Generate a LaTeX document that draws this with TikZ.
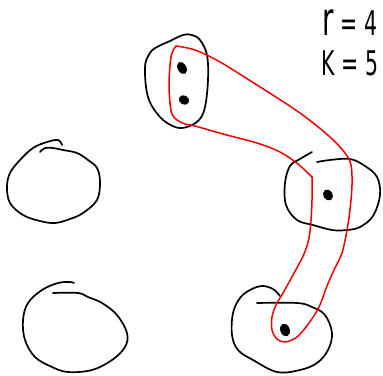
\documentclass[tikz,border=0pt]{standalone}
\usepackage{fontspec}
\setsansfont{DejaVu Sans}
\begin{document}
\begin{tikzpicture}[x=1pt,y=-1pt,
  pen/.style={line width=1.7pt, black, line cap=round, line join=round},
  redpen/.style={line width=1.5pt, red!95!black, line cap=round, line join=round},
  blob/.style={fill=black, draw=black, line width=1pt},
  label/.style={font=\sffamily\fontsize{34}{34}\selectfont, inner sep=0pt}]
\useasboundingbox[fill=white] (0,0) rectangle (383,375);
% top circle
\draw[pen] plot[smooth cycle, tension=0.6] coordinates {(183,35) (192,35) (200,40) (207,55) (208,80) (205,107) (199,120) (187,127) (175,127) (160,117) (148,97) (145,67) (150,53) (157,47) (170,41)};
% right middle circle
\draw[pen] plot[smooth, tension=0.6] coordinates {(312,152) (300,159) (290,166) (285,183) (286,205) (297,220) (313,225) (332,230) (347,230) (360,227) (373,216) (380,195) (377,177) (365,166) (350,159) (330,160) (317,162)};
% bottom right circle
\draw[pen] plot[smooth, tension=0.6] coordinates {(280,296) (273,289) (262,286) (250,290) (240,298) (233,313) (232,335) (238,350) (253,360) (277,372) (300,370) (317,363) (328,350) (332,333) (325,315) (312,307) (297,303) (257,303)};
% left middle circle
\draw[pen] plot[smooth, tension=0.6] coordinates {(62,145) (58,140) (47,142) (33,148) (20,160) (10,173) (7,187) (10,203) (23,215) (40,221) (55,223) (70,219) (83,213) (97,200) (100,182) (97,168) (88,160) (77,153) (63,150) (53,148) (45,148) (40,152)};
% bottom left circle
\draw[pen] plot[smooth, tension=0.6] coordinates {(74,283) (70,282) (58,283) (42,290) (28,303) (23,320) (25,340) (35,357) (52,367) (68,372) (92,370) (112,360) (125,347) (127,333) (117,315) (102,303) (88,297) (78,293) (53,293)};
% dots
\fill[blob, rotate around={-60:(182,68)}] (182,68) ellipse (6pt and 3.8pt);
\fill[blob, rotate around={-30:(184,100)}] (184,100) ellipse (4.8pt and 4pt);
\fill[blob, rotate around={-60:(328,195)}] (328,195) ellipse (5.2pt and 4.2pt);
\fill[blob, rotate around={-70:(285,330)}] (285,330) ellipse (6pt and 4.2pt);
% red enclosure
\draw[redpen] plot[smooth, tension=0.55] coordinates {(312,177) (312,200) (311,220) (309,238) (304,254) (293,275) (283,293) (276,305) (272,317) (272,330) (277,339) (285,342) (297,337) (309,323) (319,307) (327,286) (334,270) (342,253) (347,230) (350,210) (352,185) (351,165) (345,153) (330,137) (300,113) (257,85) (220,62) (195,50) (176,46)};
\draw[redpen] plot[smooth, tension=0.55] coordinates {(176,46) (172,53) (170,65) (169,85) (170,103) (172,114) (177,120) (185,124) (195,126) (223,134) (257,143) (280,152) (298,164) (312,177)};
% labels
\node[label, anchor=base] (r) at (350,35) {\scalebox{0.6}[1]{\fontsize{46}{46}\selectfont r\fontsize{34}{34}\selectfont{} = 4}};
\node[label, anchor=base] (k) at (350,75) {\scalebox{0.6}[1]{K = 5}};
\end{tikzpicture}
\end{document}
